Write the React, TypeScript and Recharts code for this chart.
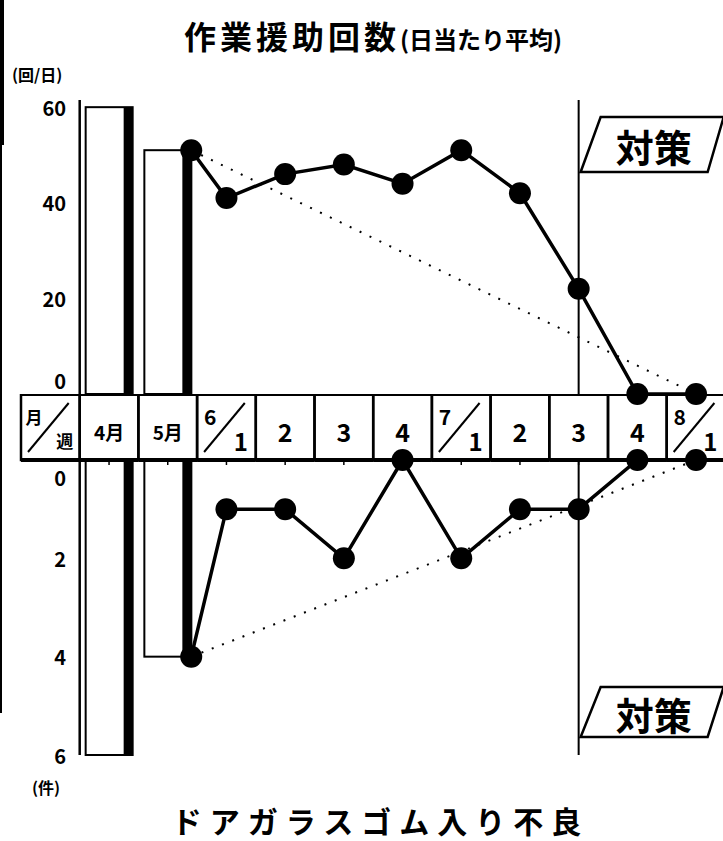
import React from "react";
import { ComposedChart, Bar, Line, XAxis, YAxis, ReferenceLine } from "recharts";

// strip labels (月/週 header + months + weeks)
const weekLabels = ["月/週", "4月", "5月", "6/1", "2", "3", "4", "7/1", "2", "3", "4", "8/1"];

// monthly bars (position = index in weekLabels)
const monthPos = [1, 2];
const assistMonthly = [60, 51];
const defectMonthly = [6, 4];

// weekly points; first point is the May figure at the end of the May bar
const weekPos = [2.4, 3, 4, 5, 6, 7, 8, 9, 10, 11];
const assistWeekly = [51, 41, 46, 48, 44, 51, 42, 22, 0, 0];
const defectWeekly = [4, 1, 1, 2, 0, 2, 1, 1, 0, 0];

const assistTicks = [0, 20, 40, 60];
const defectTicks = [0, 2, 4, 6];
const measureWeek = 9;

const FONT = "'Noto Sans CJK JP', 'Noto Sans', sans-serif";
const CELL_W = 58.7;
const STRIP_H = 66;
const BAR_W = 47;

const monthData = monthPos.map((x, i) => ({ x, assist: assistMonthly[i], defect: defectMonthly[i] }));
const weekData = weekPos.map((x, i) => ({ x, assist: assistWeekly[i], defect: defectWeekly[i] }));
const trendData = [weekData[0], weekData[weekData.length - 1]];

// white box with a heavy right edge, centred on the month cell
const MonthBar = (props: any) => {
    const { x, y, width, height } = props;
    const cx = x + width / 2;
    const left = cx - BAR_W / 2;
    const top = Math.min(y, y + height);
    const h = Math.abs(height);
    return (
        <g>
            <rect x={left} y={top} width={BAR_W} height={h} fill="#fff" stroke="#000" strokeWidth={2} />
            <rect x={left + BAR_W - 9} y={top} width={9} height={h} fill="#000" />
        </g>
    );
};

const YTick = (props: any) => {
    const { x, y, payload, zeroShift } = props;
    const dy = payload.value === 0 ? zeroShift : 0;
    return (
        <text x={x + 45} y={y + dy} textAnchor="end" dominantBaseline="central"
            fontFamily={FONT} fontWeight="bold" fontSize={20} fill="#000">
            {payload.value}
        </text>
    );
};

const StripCell = (props: any) => {
    const { x, y, payload } = props;
    const label = weekLabels[payload.value];
    const left = x - CELL_W / 2;
    const top = y - STRIP_H;
    const bottom = y;
    const right = left + CELL_W;
    const parts = label.split("/");
    return (
        <g>
            <rect x={left} y={top} width={CELL_W} height={STRIP_H} fill="none" stroke="#000" strokeWidth={2.5} />
            <line x1={left} x2={right} y1={top} y2={top} stroke="#000" strokeWidth={4} />
            <line x1={left} x2={right} y1={bottom} y2={bottom} stroke="#000" strokeWidth={4} />
            {payload.value > 0 && (
                <>
                    <line x1={x} x2={x} y1={top - 6} y2={top} stroke="#000" strokeWidth={1.5} />
                    <line x1={x} x2={x} y1={bottom} y2={bottom + 5} stroke="#000" strokeWidth={1.5} />
                </>
            )}
            {parts.length === 2 ? (
                <>
                    <line x1={left + 7} y1={bottom - 8} x2={right - 11} y2={top + 9} stroke="#000" strokeWidth={2} />
                    <text x={left + 13} y={top + 22} textAnchor="middle" dominantBaseline="central"
                        fontFamily={FONT} fontWeight="bold" fontSize={payload.value === 0 ? 17 : 21} fill="#000">{parts[0]}</text>
                    <text x={right - 15} y={bottom - 20} textAnchor="middle" dominantBaseline="central"
                        fontFamily={FONT} fontWeight="bold" fontSize={payload.value === 0 ? 17 : 24} fill="#000">{parts[1]}</text>
                </>
            ) : (
                <text x={x} y={top + STRIP_H / 2 + 4} textAnchor="middle" dominantBaseline="central"
                    fontFamily={FONT} fontWeight="bold" fontSize={label.length > 1 ? 19 : 25} fill="#000">{label}</text>
            )}
        </g>
    );
};

const Flag = (props: any) => {
    const { viewBox, offsetTop, boxH } = props;
    const x0 = viewBox.x;
    const y0 = viewBox.y + offsetTop;
    const pts = [
        [x0 + 2, y0 + boxH],
        [x0 + 22, y0],
        [x0 + 145, y0],
        [x0 + 129, y0 + boxH],
    ].map((p) => p.join(",")).join(" ");
    return (
        <g>
            <polygon points={pts} fill="#fff" stroke="#000" strokeWidth={2.5} />
            <text x={x0 + 75} y={y0 + boxH / 2 + 1} textAnchor="middle" dominantBaseline="central"
                fontFamily={FONT} fontWeight="bold" fontSize={38} fill="#000">対策</text>
        </g>
    );
};

const App = () => {
    return (
        <div style={{ position: "absolute", left: 0, top: 0, width: 723, height: 841, overflow: "hidden", background: "#fff", fontFamily: FONT }}>
            {/* scanned page edge */}
            <div style={{ position: "absolute", left: 0, top: 0, width: 4, height: 145, background: "#000" }} />
            <div style={{ position: "absolute", left: 0, top: 145, width: 2, height: 568, background: "#000" }} />

            <div style={{ position: "absolute", left: 0, top: 13, width: 723, boxSizing: "border-box", paddingLeft: 23, textAlign: "center", fontWeight: "bold", color: "#000", whiteSpace: "nowrap", lineHeight: "44px" }}>
                <span style={{ fontSize: 32, letterSpacing: 4 }}>作業援助回数</span>
                <span style={{ fontSize: 24 }}>(日当たり平均)</span>
            </div>
            <div style={{ position: "absolute", left: 12, top: 63, fontSize: 16, fontWeight: "bold", lineHeight: "22px" }}>(回/日)</div>
            <div style={{ position: "absolute", left: 32, top: 776, fontSize: 16, fontWeight: "bold", lineHeight: "22px" }}>(件)</div>

            {/* lower panel: defects, with the week strip as its x axis */}
            <div style={{ position: "absolute", left: 0, top: 394 }}>
                <ComposedChart width={740} height={381} data={monthData}
                    margin={{ top: 0, right: 14.6, bottom: 20, left: 0 }}>
                    <XAxis type="number" dataKey="x" orientation="top" domain={[-0.5, 11.5]}
                        ticks={weekLabels.map((_, i) => i)} interval={0} height={STRIP_H}
                        axisLine={false} tickLine={false} tickSize={0} tickMargin={0} tick={<StripCell />} />
                    <YAxis type="number" reversed domain={[0, 6]} ticks={defectTicks} width={21}
                        axisLine={false} tickLine={false} tickSize={0} tickMargin={0} tick={<YTick zeroShift={17} />} />
                    <ReferenceLine x={0.5} stroke="#000" strokeWidth={2.5} />
                    <Bar dataKey="defect" shape={<MonthBar />} isAnimationActive={false} />
                    <ReferenceLine x={measureWeek} stroke="#000" strokeWidth={2}
                        label={<Flag offsetTop={227} boxH={50} />} />
                    <Line data={trendData} dataKey="defect" stroke="#000" strokeWidth={2} strokeDasharray="2 9"
                        dot={false} isAnimationActive={false} />
                    <Line data={weekData} dataKey="defect" stroke="#000" strokeWidth={3.5}
                        dot={{ r: 11, fill: "#000", stroke: "none" }} isAnimationActive={false} />
                </ComposedChart>
            </div>

            {/* upper panel: assist count */}
            <div style={{ position: "absolute", left: 0, top: 0 }}>
                <ComposedChart width={740} height={410} data={monthData}
                    margin={{ top: 100, right: 14.6, bottom: 16, left: 0 }}>
                    <XAxis type="number" dataKey="x" domain={[-0.5, 11.5]} hide />
                    <YAxis type="number" domain={[0, 61.5]} ticks={assistTicks} width={21}
                        axisLine={false} tickLine={false} tickSize={0} tickMargin={0} tick={<YTick zeroShift={-14} />} />
                    <ReferenceLine x={0.5} stroke="#000" strokeWidth={2.5} />
                    <Bar dataKey="assist" shape={<MonthBar />} isAnimationActive={false} />
                    <ReferenceLine x={measureWeek} stroke="#000" strokeWidth={2}
                        label={<Flag offsetTop={17} boxH={55} />} />
                    <Line data={trendData} dataKey="assist" stroke="#000" strokeWidth={2} strokeDasharray="2 9"
                        dot={false} isAnimationActive={false} />
                    <Line data={weekData} dataKey="assist" stroke="#000" strokeWidth={3.5}
                        dot={{ r: 11, fill: "#000", stroke: "none" }} isAnimationActive={false} />
                </ComposedChart>
            </div>

            <div style={{ position: "absolute", left: 0, top: 803, width: 723, boxSizing: "border-box", paddingLeft: 38, textAlign: "center", fontSize: 30, fontWeight: "bold", letterSpacing: 8, whiteSpace: "nowrap", lineHeight: "34px" }}>
                ドアガラスゴム入り不良
            </div>
        </div>
    );
};

export default App;
